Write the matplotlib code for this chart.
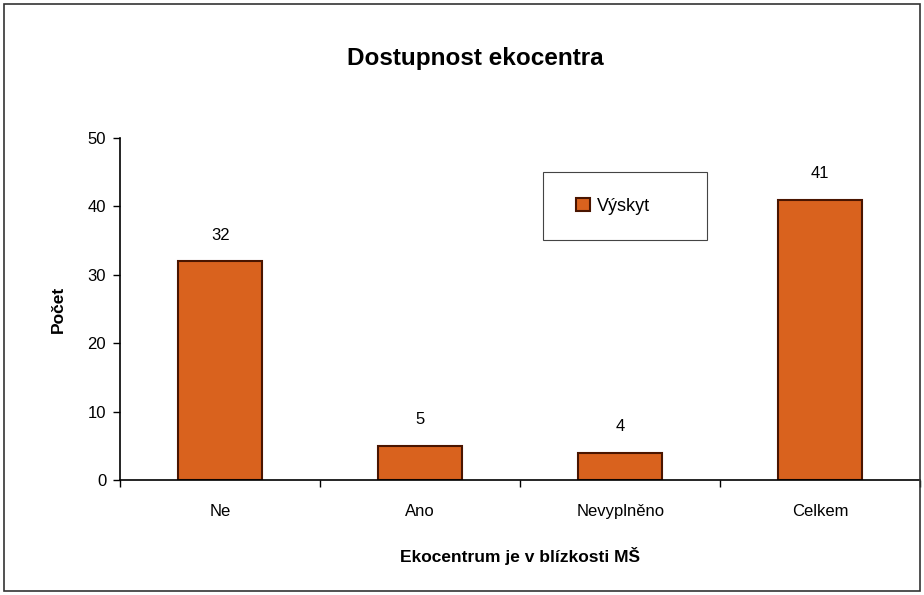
import matplotlib.pyplot as plt
from matplotlib.patches import Rectangle

plt.rcParams['font.family'] = ['Liberation Sans', 'DejaVu Sans']

categories = ["Ne", "Ano", "Nevyplněno", "Celkem"]
counts = [32, 5, 4, 41]

fig = plt.figure(figsize=(9.24, 5.95), dpi=100)
ax = fig.add_axes([0.130, 0.193, 0.866, 0.575])

x = list(range(len(categories)))
bars = ax.bar(x, counts, width=0.42, color="#D9621E", edgecolor="#4a1500",
              linewidth=1.5, label="Výskyt")
for xi, v in zip(x, counts):
    ax.text(xi, v + 2.7, str(v), ha="center", va="bottom", fontsize=12)

ax.set_xlim(-0.5, 3.5)
ax.set_ylim(0, 50)
ax.set_yticks(range(0, 51, 10))
ax.set_xticks(x)
ax.set_xticklabels(categories, fontsize=12)
ax.set_xticks([-0.5, 0.5, 1.5, 2.5, 3.5], minor=True)
ax.tick_params(axis="x", which="major", length=0, pad=17)
ax.tick_params(axis="x", which="minor", length=5, width=1)
ax.tick_params(axis="y", labelsize=12, length=5, width=1, pad=5)
ax.spines["top"].set_visible(False)
ax.spines["right"].set_visible(False)
ax.spines["left"].set_linewidth(1.2)
ax.spines["bottom"].set_linewidth(1.2)

ax.set_ylabel("Počet", fontsize=12.5, fontweight="bold", labelpad=16)
ax.set_xlabel("Ekocentrum je v blízkosti MŠ", fontsize=12.5, fontweight="bold",
              labelpad=20)
fig.text(0.514, 0.902, "Dostupnost ekocentra", ha="center", va="center",
         fontsize=17.5, fontweight="bold")

# legend box drawn separately so it can be wider than the entry
ax.add_patch(Rectangle((0.529, 0.702), 0.204, 0.199, transform=ax.transAxes,
                       fill=True, facecolor="white", edgecolor="#444444",
                       linewidth=0.8, zorder=4))
leg = ax.legend(loc="center", bbox_to_anchor=(0.616, 0.801), fontsize=13,
                frameon=False, borderpad=0, handlelength=0.8, handleheight=0.8,
                handletextpad=0.4, borderaxespad=0)
leg.set_zorder(5)

fig.patches.append(Rectangle((0.004, 0.006), 0.992, 0.988, transform=fig.transFigure,
                             fill=False, edgecolor="#333333", linewidth=1.2))

fig.savefig("out.png", dpi=100)
